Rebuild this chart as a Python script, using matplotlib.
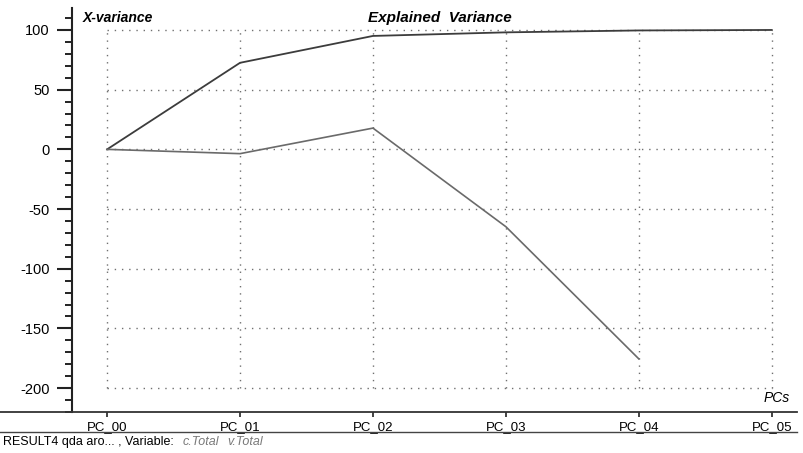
import matplotlib
matplotlib.use("Agg")
import matplotlib.pyplot as plt
from matplotlib.lines import Line2D
from matplotlib.ticker import MultipleLocator

plt.rcParams['font.family'] = ['Liberation Sans', 'DejaVu Sans']

# Explained variance per principal component
pcs = ["PC_00", "PC_01", "PC_02", "PC_03", "PC_04", "PC_05"]
calibration_total = [0, 72.5, 95, 98, 99.6, 100]
validation_total = [0, -3.6, 17.8, -64.8, -175.5]
y_major = [100, 50, 0, -50, -100, -150, -200]

W, H = 804, 453
fig = plt.figure(figsize=(W / 100, H / 100), dpi=100)
fig.patch.set_facecolor("white")

# axes box in pixel coordinates (left, top, right, bottom)
L, T, R, B = 72, 8, 797, 412
ax = fig.add_axes([L / W, 1 - B / H, (R - L) / W, (B - T) / H])

x = list(range(len(pcs)))
ax.set_xlim(-0.264, 5.19)
ax.set_ylim(-220, 118.4)

# dotted grid limited to the data area
for yv in y_major:
    ax.plot([0, len(pcs) - 1], [yv, yv], color="#707070", lw=1.0,
            ls=(0, (1, 4.2)), zorder=1)
for xv in x:
    ax.plot([xv, xv], [min(y_major), max(y_major)], color="#707070", lw=1.0,
            ls=(0, (1, 4.2)), zorder=1)

ax.plot(x, calibration_total, color="#3c3c3c", lw=1.3, zorder=3)
ax.plot(x[:len(validation_total)], validation_total, color="#6a6a6a", lw=1.2, zorder=3)

for s in ["top", "right", "bottom"]:
    ax.spines[s].set_visible(False)
ax.spines["left"].set_linewidth(1.5)
ax.spines["left"].set_color("#222222")

ax.yaxis.set_major_locator(MultipleLocator(50))
ax.yaxis.set_minor_locator(MultipleLocator(10))
ax.tick_params(axis="y", which="major", length=11, width=1.5, color="#222222",
               labelsize=10.5, pad=5, direction="out")
ax.tick_params(axis="y", which="minor", length=5, width=1.4, color="#222222",
               direction="out")
ax.set_yticks(y_major)
ax.set_yticklabels([str(v) for v in y_major])

ax.set_xticks(x)
ax.set_xticklabels(pcs)
ax.tick_params(axis="x", length=3.5, width=1.2, color="#222222", labelsize=9.5,
               pad=3, direction="out")

# axis captions
fig.text(83 / W, 1 - 18 / H, "X-variance", fontsize=10, fontweight="bold",
         fontstyle="italic", va="center", ha="left")
fig.text(440 / W, 1 - 18 / H, "Explained  Variance", fontsize=11, fontweight="bold",
         fontstyle="italic", va="center", ha="center")
fig.text(790 / W, 1 - 398 / H, "PCs", fontsize=10, fontstyle="italic",
         va="center", ha="right")

# baseline and separator rules spanning the page
fig.add_artist(Line2D([0, R / W], [1 - 412 / H, 1 - 412 / H], color="#333333", lw=1.3))
fig.add_artist(Line2D([0, R / W], [1 - 432 / H, 1 - 432 / H], color="#444444", lw=1.0))

# footer
fig.text(3 / W, 1 - 442 / H, "RESULT4 qda aro... , Variable:", fontsize=9,
         va="center", ha="left")
fig.text(183 / W, 1 - 442 / H, "c.Total", fontsize=9, fontstyle="italic",
         color="#7a7a7a", va="center", ha="left")
fig.text(227 / W, 1 - 442 / H, "v.Total", fontsize=9, fontstyle="italic",
         color="#7a7a7a", va="center", ha="left")

fig.savefig("out.png", dpi=100, facecolor="white")
